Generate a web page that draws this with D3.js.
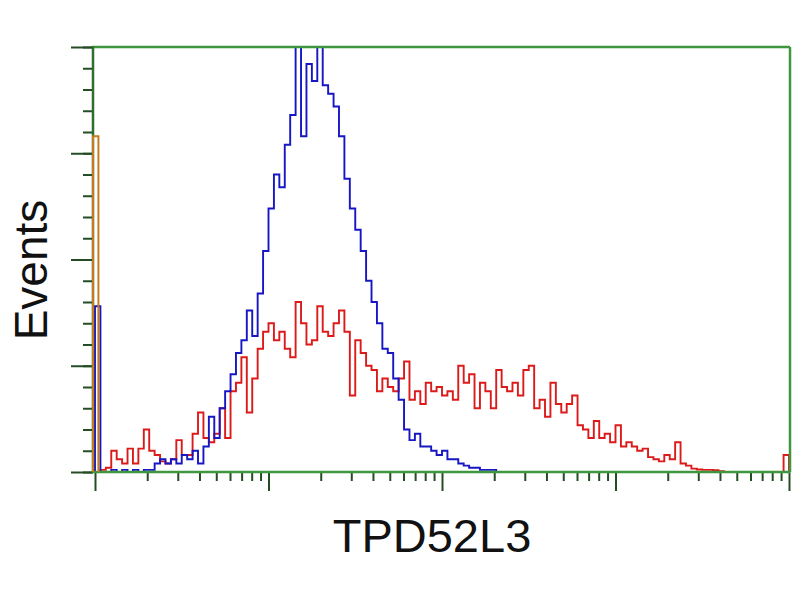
<!DOCTYPE html>
<html>
<head>
<meta charset="utf-8">
<script src="https://cdn.jsdelivr.net/npm/d3@7"></script>
<style>
  body { margin: 0; background: #fff; }
  text { font-family: "Liberation Sans", Arial, sans-serif; }
</style>
</head>
<body>
<div id="chart"></div>
<script>
// histogram counts, 128 channels over 4 log decades (percent of max)
var nChannels = 128;
var decades = [1, 10, 100, 1000, 10000];
var yMajor = [0, 25, 50, 75, 100];

var blueCounts = [
  39, 0, 0, 0.5, 0, 0.5, 0, 0.5, 0, 0.5,
  0.5, 2, 3, 2, 3, 2, 4, 3, 5, 2,
  6, 13, 8, 15, 19, 23, 28, 31, 38, 32,
  42, 52, 62, 70, 67, 77, 84, 100, 79, 96,
  92, 100, 91, 89, 86, 79, 69, 62, 57, 52,
  45, 40, 35, 29, 28, 22, 17, 10, 7.5, 9,
  6, 6, 5, 4, 5, 3, 3, 2, 1.5, 1,
  1, 0.5, 0.5, 0.5, 0, 0, 0, 0, 0, 0,
  0, 0, 0, 0, 0, 0, 0, 0, 0, 0,
  0, 0, 0, 0, 0, 0, 0, 0, 0, 0,
  0, 0, 0, 0, 0, 0, 0, 0, 0, 0,
  0, 0, 0, 0, 0, 0, 0, 0, 0, 0,
  0, 0, 0, 0, 0, 0, 0, 0
];

var redCounts = [
  0, 0.5, 1, 5, 3, 2, 5.5, 2, 5.5, 10,
  5, 4, 2.5, 2, 3, 7.5, 4, 4, 9, 14,
  8, 7, 9, 15, 8, 19, 21, 27, 14, 22,
  29, 33, 35, 31, 33, 29, 27, 40, 35, 30,
  31, 39, 33, 32, 35, 38, 33, 18, 31, 28,
  25, 24, 19, 22, 20, 19, 22, 26, 17, 19,
  16, 21, 19, 20, 18, 19, 17, 25, 21, 23,
  15, 21, 19, 15, 24, 20, 19, 21, 18, 24,
  25, 15, 17, 13, 21, 16, 14, 16, 18, 11,
  10, 8, 12, 8, 9, 7, 11, 6, 7, 6,
  5, 5.5, 3.5, 3, 2.5, 4, 3, 7, 2, 1.5,
  0.8, 0.6, 0.5, 0.5, 0.4, 0.2, 0, 0, 0, 0,
  0, 0, 0, 0, 0, 0, 0, 4
];

var controlCounts = [79];

var W = 800, H = 600;
var pLeft = 95, pRight = 789, pTop = 47, pBottom = 472;

var svg = d3.select("#chart").append("svg")
    .attr("width", W).attr("height", H);

var xLog = d3.scaleLog().domain([1, 10000]).range([pLeft, pRight]);
var chan = function(c) { return xLog(Math.pow(10, 4 * c / nChannels)); };
var y = d3.scaleLinear().domain([0, 100]).range([pBottom, pTop]);

function stepPoints(counts) {
  var pts = [[0, 0]];
  counts.forEach(function(v, i) { pts.push([i, v]); });
  pts.push([counts.length, 0]);
  return pts;
}

var line = d3.line()
    .x(function(d) { return chan(d[0]); })
    .y(function(d) { return y(d[1]); })
    .curve(d3.curveStepAfter);

svg.append("clipPath").attr("id", "plotclip")
  .append("rect").attr("x", pLeft - 5).attr("y", pTop).attr("width", pRight - pLeft + 6).attr("height", pBottom - pTop);

var plot = svg.append("g").attr("clip-path", "url(#plotclip)");

plot.append("path")
    .datum(stepPoints(redCounts))
    .attr("d", line)
    .attr("fill", "none")
    .attr("stroke", "#dd1a1a")
    .attr("stroke-width", 1.9);

plot.append("path")
    .datum(stepPoints(blueCounts))
    .attr("d", line)
    .attr("fill", "none")
    .attr("stroke", "#1616c4")
    .attr("stroke-width", 1.9);

// frame
svg.append("line").attr("x1", pLeft - 3).attr("x2", pRight + 1).attr("y1", pTop).attr("y2", pTop)
    .attr("stroke", "#3f963f").attr("stroke-width", 2.5);
svg.append("line").attr("x1", pRight + 1).attr("x2", pRight + 1).attr("y1", pTop).attr("y2", pBottom)
    .attr("stroke", "#3f963f").attr("stroke-width", 2.5);

// x axis (log decades)
var minorX = [];
decades.slice(0, 4).forEach(function(d) {
  for (var k = 2; k < 10; k++) minorX.push(d * k);
});

var xMinor = svg.append("g").attr("transform", "translate(0," + pBottom + ")")
    .call(d3.axisBottom(xLog).tickValues(minorX).tickSize(9).tickFormat(""));
var xMajor = svg.append("g").attr("transform", "translate(0," + pBottom + ")")
    .call(d3.axisBottom(xLog).tickValues(decades).tickSize(19).tickFormat(""));

// y axis
var minorY = d3.range(0, 101, 5);
var yMinor = svg.append("g").attr("transform", "translate(" + (pLeft - 2) + ",0)")
    .call(d3.axisLeft(y).tickValues(minorY).tickSize(10).tickFormat(""));
var yMaj = svg.append("g").attr("transform", "translate(" + (pLeft - 2) + ",0)")
    .call(d3.axisLeft(y).tickValues(yMajor).tickSize(22).tickFormat(""));

[xMinor, xMajor, yMinor, yMaj].forEach(function(g) {
  g.selectAll(".tick line").attr("stroke", "#244d24").attr("stroke-width", 2);
  g.select(".domain").remove();
});

svg.append("line").attr("x1", pLeft - 3).attr("x2", pRight + 1).attr("y1", pBottom).attr("y2", pBottom)
    .attr("stroke", "#3f963f").attr("stroke-width", 2.5);
svg.append("line").attr("x1", pLeft - 2).attr("x2", pLeft - 2).attr("y1", pTop).attr("y2", pBottom)
    .attr("stroke", "#2e6e2e").attr("stroke-width", 2.5);

// control spike sits on the left axis
svg.append("path")
    .datum(stepPoints(controlCounts))
    .attr("d", line)
    .attr("clip-path", "url(#plotclip)")
    .attr("transform", "translate(-2,0)")
    .attr("fill", "none")
    .attr("stroke", "#c77a1e")
    .attr("stroke-width", 2);

// labels
svg.append("text")
    .attr("x", 432).attr("y", 552)
    .attr("text-anchor", "middle")
    .attr("font-size", 47)
    .attr("fill", "#111")
    .text("TPD52L3");

svg.append("text")
    .attr("transform", "translate(47,270) rotate(-90)")
    .attr("text-anchor", "middle")
    .attr("font-size", 46)
    .attr("fill", "#111")
    .text("Events");
</script>
</body>
</html>
